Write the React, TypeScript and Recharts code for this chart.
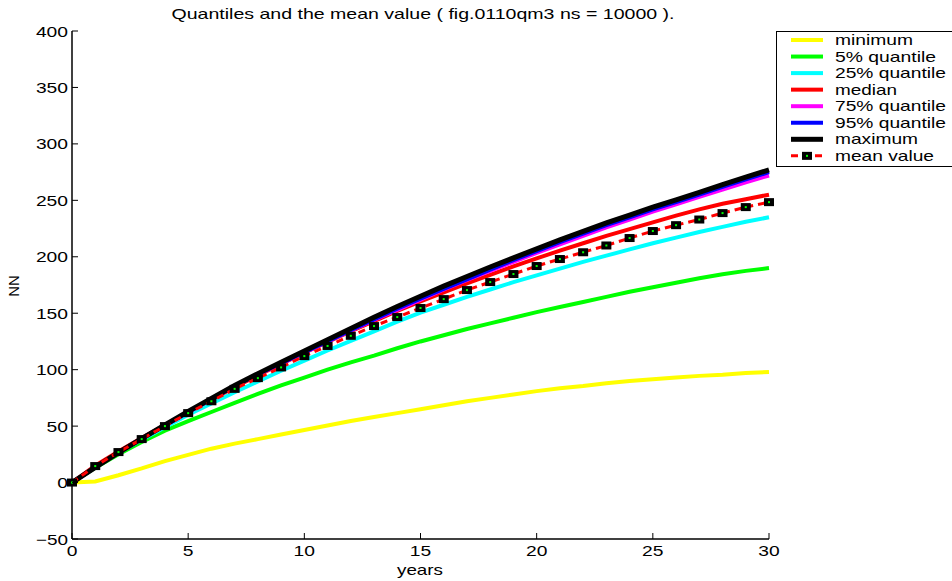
import React from 'react';
import { Line, LineChart, XAxis, YAxis } from 'recharts';

const YEARS = Array.from({ length: 31 }, (_, i) => i);

const MINIMUM = [0, 1, 6.5, 12.5, 19, 24.5, 30, 34.5, 38.5, 42.5, 46.5, 50.5, 54.5, 58, 61.5, 65, 68.5, 72, 75, 78, 81, 83.5, 85.5, 88, 90, 91.5, 93, 94.5, 95.5, 97, 98];
const Q05 = [0, 13, 25, 36, 46, 54.5, 62.5, 70.5, 78.5, 86, 93, 100, 106.5, 112.5, 119, 125, 130.5, 136, 141, 146, 151, 155.5, 160, 164.5, 169, 173, 177, 181, 184.5, 187.5, 190];
const Q25 = [0, 14, 26.5, 38, 49, 60, 70, 80, 89.5, 99, 108, 117, 125.5, 134, 142.5, 150.5, 157.5, 164.5, 171, 177.5, 183.5, 189.5, 195.5, 201, 206.5, 212, 217, 222, 226.5, 231, 235];
const MEDIAN = [0, 15, 27.5, 39.5, 51, 62.5, 73.5, 84.5, 95, 105, 115, 124.5, 134, 143, 152, 160.5, 168.5, 176.5, 184, 191.5, 198.5, 205.5, 212, 218.5, 224.5, 230.5, 236.5, 242, 247, 251, 255];
const Q75 = [0, 13.5, 26.5, 39, 50.5, 62.5, 74, 85.5, 96, 105.5, 115, 125, 134.5, 144, 153, 162, 171, 179.5, 187.5, 195.5, 203.5, 211, 218.5, 226, 233, 240, 246.5, 253, 259.5, 266, 272];
const Q95 = [0, 13.5, 26.5, 39, 50.5, 62.5, 74, 85.5, 96, 105.5, 115.5, 125, 135, 144.5, 154, 163, 171.5, 180, 188.5, 197, 205, 213, 220.5, 228, 235, 242, 248.5, 255, 262, 268.5, 275];
const MAXIMUM = [0, 13.5, 26.5, 39, 51, 63, 74.5, 86, 96.5, 106.5, 116.5, 126.5, 136.5, 146.5, 156, 165, 174, 182.5, 191, 199, 207, 215, 222.5, 230, 237, 244, 250.5, 257, 264, 270.5, 277];
const MEAN = [0, 14.6, 27, 38.5, 50, 61.5, 72, 83, 92.5, 102, 112, 121, 130, 138.6, 146.6, 154.6, 162.5, 170.5, 177.6, 184.7, 191.8, 198, 204, 210, 216.6, 222.8, 228, 233, 238.7, 244, 248.4];

const X_TICKS = [0, 5, 10, 15, 20, 25, 30];
const Y_TICKS = [-50, 0, 50, 100, 150, 200, 250, 300, 350, 400];

const SERIES = [
    { key: 'minimum', name: 'minimum', color: '#ffff00', width: 4, textW: 78 },
    { key: 'q05', name: '5% quantile', color: '#00ff00', width: 4, textW: 101 },
    { key: 'q25', name: '25% quantile', color: '#00ffff', width: 4, textW: 111 },
    { key: 'median', name: 'median', color: '#ff0000', width: 4, textW: 62 },
    { key: 'q75', name: '75% quantile', color: '#ff00ff', width: 4, textW: 111 },
    { key: 'q95', name: '95% quantile', color: '#0000ff', width: 4, textW: 111 },
    { key: 'maximum', name: 'maximum', color: '#000000', width: 5, textW: 83 },
];
const MEAN_LABEL = { name: 'mean value', textW: 99 };

const data = YEARS.map((t, i) => ({
    t,
    minimum: MINIMUM[i],
    q05: Q05[i],
    q25: Q25[i],
    median: MEDIAN[i],
    q75: Q75[i],
    q95: Q95[i],
    maximum: MAXIMUM[i],
    mean: MEAN[i],
}));

const FONT = '"Liberation Sans", Arial, Helvetica, sans-serif';
const DIGIT_W = 10.7;

const fmt = (v: number) => (v < 0 ? '\u2212' + Math.abs(v) : String(v));

const BottomTick = (props: any) => {
    const { x, y, payload } = props;
    const s = fmt(payload.value);
    return (
        <g>
            <line x1={x} x2={x} y1={y} y2={y - 6} stroke="#000" />
            <text x={x} y={y + 17} textAnchor="middle" fontSize={15} fontFamily={FONT} fill="#000"
                textLength={s.length * DIGIT_W} lengthAdjust="spacingAndGlyphs">{s}</text>
        </g>
    );
};

const LeftTick = (props: any) => {
    const { x, y, payload } = props;
    const s = fmt(payload.value);
    return (
        <g>
            <line x1={x} x2={x + 6} y1={y} y2={y} stroke="#000" />
            <text x={x - 4} y={y + 5.5} textAnchor="end" fontSize={15} fontFamily={FONT} fill="#000"
                textLength={s.length * DIGIT_W} lengthAdjust="spacingAndGlyphs">{s}</text>
        </g>
    );
};

const TopTick = (props: any) => {
    const { x, y } = props;
    return <line x1={x} x2={x} y1={y} y2={y + 6} stroke="#000" />;
};

const RightTick = (props: any) => {
    const { x, y } = props;
    return <line x1={x} x2={x - 6} y1={y} y2={y} stroke="#000" />;
};

const MeanDot = (props: any) => {
    const { cx, cy, index } = props;
    if (cx == null || cy == null) return <g key={index} />;
    return (
        <g key={`m-${index}`}>
            <rect x={cx - 5} y={cy - 4} width={10} height={8} fill="#000" />
            <rect x={cx - 1} y={cy - 1} width={2} height={2} fill="#00ff00" />
        </g>
    );
};

function ChartLegend() {
    const rowH = 16.55;
    const top = 9;
    return (
        <svg width={176} height={137} style={{ position: 'absolute', left: 776, top: 31 }}>
            <rect x={0.5} y={0.5} width={180} height={135} fill="#fff" stroke="#000" strokeWidth={1} />
            {SERIES.map((s, i) => {
                const cy = top + rowH * i;
                return (
                    <g key={s.key}>
                        <line x1={15} x2={47} y1={cy} y2={cy} stroke={s.color} strokeWidth={s.width} />
                        <text x={59} y={cy + 5} fontSize={15} fontFamily={FONT} fill="#000"
                            textLength={s.textW} lengthAdjust="spacingAndGlyphs">{s.name}</text>
                    </g>
                );
            })}
            {(() => {
                const cy = top + rowH * 7;
                return (
                    <g>
                        <line x1={15} x2={47} y1={cy} y2={cy} stroke="#ff0000" strokeWidth={3} strokeDasharray="7 5" />
                        <rect x={26} y={cy - 4} width={10} height={8} fill="#000" />
                        <rect x={30} y={cy - 1} width={2} height={2} fill="#00ff00" />
                        <text x={59} y={cy + 5} fontSize={15} fontFamily={FONT} fill="#000"
                            textLength={MEAN_LABEL.textW} lengthAdjust="spacingAndGlyphs">{MEAN_LABEL.name}</text>
                    </g>
                );
            })()}
        </svg>
    );
}

export default function App() {
    return (
        <div style={{ position: 'absolute', left: 0, top: 0, width: 952, height: 581, background: '#fff', overflow: 'hidden' }}>
            <LineChart
                width={952}
                height={581}
                data={data}
                margin={{ top: 31, right: 183, bottom: 0, left: 0 }}
            >
                <XAxis
                    dataKey="t"
                    type="number"
                    domain={[0, 30]}
                    ticks={X_TICKS}
                    interval={0}
                    height={42}
                    tickSize={0}
                    tickMargin={0}
                    tickLine={false}
                    tick={<BottomTick />}
                    axisLine={{ stroke: '#000', strokeWidth: 1.5 }}
                />
                <XAxis
                    xAxisId="top"
                    orientation="top"
                    dataKey="t"
                    type="number"
                    domain={[0, 30]}
                    ticks={X_TICKS}
                    interval={0}
                    height={0}
                    tickSize={0}
                    tickMargin={0}
                    tickLine={false}
                    tick={<TopTick />}
                    axisLine={{ stroke: '#000', strokeWidth: 1.5 }}
                />
                <YAxis
                    type="number"
                    domain={[-50, 400]}
                    ticks={Y_TICKS}
                    interval={0}
                    width={72}
                    tickSize={0}
                    tickMargin={0}
                    tickLine={false}
                    tick={<LeftTick />}
                    axisLine={{ stroke: '#000', strokeWidth: 1.5 }}
                />
                <YAxis
                    yAxisId="right"
                    orientation="right"
                    type="number"
                    domain={[-50, 400]}
                    ticks={Y_TICKS}
                    interval={0}
                    width={0}
                    tickSize={0}
                    tickMargin={0}
                    tickLine={false}
                    tick={<RightTick />}
                    axisLine={{ stroke: '#000', strokeWidth: 1.5 }}
                />
                {SERIES.map((s) => (
                    <Line
                        key={s.key}
                        type="linear"
                        dataKey={s.key}
                        name={s.name}
                        stroke={s.color}
                        strokeWidth={s.width}
                        dot={false}
                        activeDot={false}
                        isAnimationActive={false}
                    />
                ))}
                <Line
                    type="linear"
                    dataKey="mean"
                    name="mean value"
                    stroke="#ff0000"
                    strokeWidth={3}
                    strokeDasharray="7 5"
                    dot={MeanDot}
                    activeDot={false}
                    isAnimationActive={false}
                />
                <text x={423} y={19} textAnchor="middle" fontSize={15} fontFamily={FONT} fill="#000"
                    textLength={503} lengthAdjust="spacingAndGlyphs">
                    Quantiles and the mean value ( fig.0110qm3 ns = 10000 ).
                </text>
                <text x={420} y={575} textAnchor="middle" fontSize={15} fontFamily={FONT} fill="#000"
                    textLength={46} lengthAdjust="spacingAndGlyphs">years</text>
                <text x={19} y={286} textAnchor="middle" fontSize={15} fontFamily={FONT} fill="#000"
                    transform="rotate(-90 19 286)">NN</text>
            </LineChart>
            <ChartLegend />
        </div>
    );
}
